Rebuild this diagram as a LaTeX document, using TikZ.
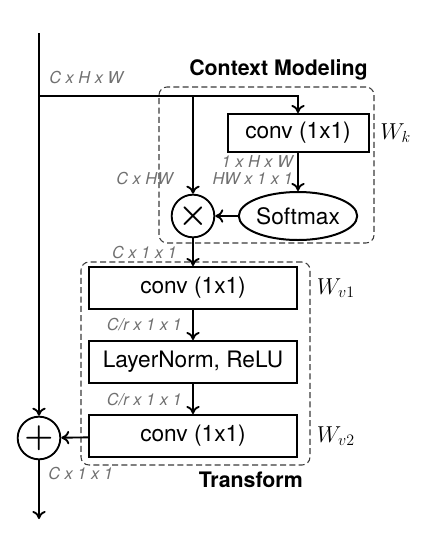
\documentclass[tikz,border=0pt]{standalone}
\usepackage{fontspec}
\setsansfont{TeX Gyre Heros}
\usepackage{xcolor}
\usetikzlibrary{positioning,shapes.geometric,arrows.meta}

\definecolor{labelgray}{HTML}{707070}
\definecolor{groupgray}{HTML}{3A3A3A}

\tikzset{
  block/.style={draw, line width=1.5pt, inner sep=0pt, minimum width=156pt, minimum height=31.5pt, font=\sffamily\fontsize{17}{20}\selectfont},
  opcircle/.style={draw, circle, line width=1.4pt, inner sep=0pt, minimum size=32pt, font=\fontsize{25}{25}\selectfont\boldmath},
  dimlabel/.style={font=\sffamily\itshape\fontsize{12.3}{14}\selectfont, text=labelgray, inner sep=0pt},
  wlabel/.style={font=\fontsize{17}{20}\selectfont, inner sep=0pt},
  groupbox/.style={draw=groupgray, dash pattern=on 4.5pt off 2.5pt, line width=0.8pt, rounded corners=6pt, inner sep=0pt},
  titletext/.style={font=\sffamily\bfseries\fontsize{16}{19}\selectfont, inner sep=0pt},
  arrowline/.style={line width=1.4pt, -{To[length=6pt,width=10pt]}},
}

\begin{document}
\begin{tikzpicture}[x=0.75pt, y=-0.75pt]
    \useasboundingbox (0,0) rectangle (424,539);

    % context modeling
    \node (ctxbox) [groupbox, minimum width=161.25pt, minimum height=117pt] at (266.5,165) {};
    \node (ctxtitle) [titletext, anchor=east] at (368,70) {Context Modeling};
    \node (convk) [block, minimum width=105.75pt, minimum height=28.5pt] at (298,133) {conv (1x1)};
    \node (wk) [wlabel, right=8pt of convk] {$W_k$};
    \node (softmax) [draw, ellipse, line width=1.5pt, inner sep=0pt, minimum width=79.5pt, minimum height=36pt, font=\sffamily\fontsize{17}{20}\selectfont] at (298,216) {Softmax};
    \node (mult) [opcircle, font=\fontsize{28}{28}\selectfont\boldmath] at (193,216) {$\times$};

    % transform
    \node (trbox) [groupbox, minimum width=171.75pt, minimum height=152.25pt] at (195.5,363.5) {};
    \node (trtitle) [titletext, anchor=east] at (303,480) {Transform};
    \node (wv1) [block] at (193,288) {conv (1x1)};
    \node (ln) [block] at (193,362) {LayerNorm, ReLU};
    \node (wv2) [block] at (193,436) {conv (1x1)};
    \node (wv1lab) [wlabel, right=14pt of wv1] {$W_{v1}$};
    \node (wv2lab) [wlabel, right=14pt of wv2] {$W_{v2}$};

    % main path
    \coordinate (top) at (39,33);
    \coordinate (split) at (39,96);
    \node (plus) [opcircle] at (39,438) {$+$};
    \coordinate (out) at (39,519);

    \draw[arrowline] (top) -- (plus);
    \draw[arrowline] (split) -| (convk);
    \draw[arrowline] (split -| mult) -- (mult);
    \foreach \i/\j in {convk/softmax, softmax/mult, mult/wv1, wv1/ln, ln/wv2, wv2/plus, plus/out} {
        \draw[arrowline] (\i) -- (\j);
    }

    % shapes of the tensors
    \node (dimin) [dimlabel, anchor=west] at (49,78) {C x H x W};
    \node (dimchw) [dimlabel, anchor=east] at (173,179) {C x HW};
    \node (dimk) [dimlabel, anchor=east] at (293,162) {1 x H x W};
    \node (dimsm) [dimlabel, anchor=east] at (293,179) {HW x 1 x 1};
    \node (dimctx) [dimlabel, anchor=east] at (177,253) {C x 1 x 1};
    \node (dimr1) [dimlabel, anchor=east] at (182,325) {C/r x 1 x 1};
    \node (dimr2) [dimlabel, anchor=east] at (182,400) {C/r x 1 x 1};
    \node (dimout) [dimlabel, anchor=west] at (48,474) {C x 1 x 1};
\end{tikzpicture}
\end{document}
